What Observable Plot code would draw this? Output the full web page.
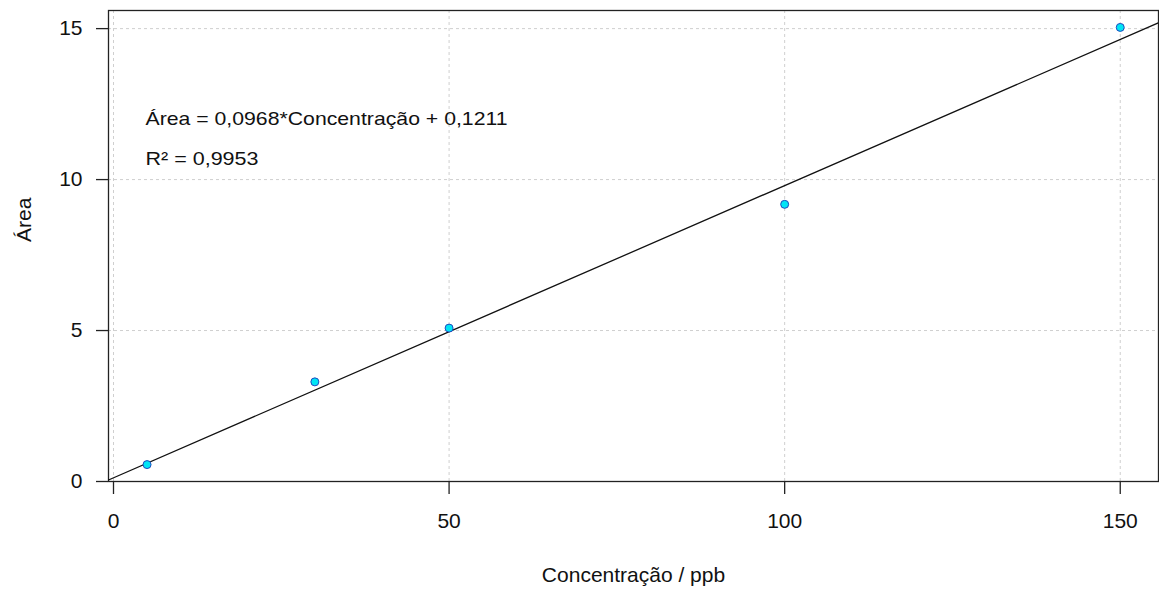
<!DOCTYPE html>
<html>
<head>
<meta charset="utf-8">
<script src="https://cdn.jsdelivr.net/npm/d3@7"></script>
<script src="https://cdn.jsdelivr.net/npm/@observablehq/plot@0.6"></script>
<style>
  html, body { margin: 0; padding: 0; background: white; }
  #chart { width: 1159px; height: 592px; }
</style>
</head>
<body>
<div id="chart"></div>
<script>
// Data
const concentracao = [5, 30, 50, 100, 150];
const area = [0.56, 3.30, 5.08, 9.18, 15.04];
const xTicks = [0, 50, 100, 150];
const yTicks = [0, 5, 10, 15];
const slope = 0.0968;
const intercept = 0.1211;
const eqLabel = "Área = 0,0968*Concentração + 0,1211";
const r2Label = "R² = 0,9953";
const xTitle = "Concentração / ppb";
const yTitle = "Área";
const xDomain = [-0.745, 155.7];
const yDomain = [0, 15.6];

const points = concentracao.map((c, i) => ({x: c, y: area[i]}));
const fitLine = xDomain.map(x => ({x, y: slope * x + intercept}));

const font = "Liberation Sans, Arial, sans-serif";

const chart = Plot.plot({
  width: 1159,
  height: 592,
  marginLeft: 108,
  marginRight: 1,
  marginTop: 10,
  marginBottom: 111,
  style: {fontFamily: font, fontSize: "21px", background: "white", color: "#111"},
  x: {domain: xDomain, label: null},
  y: {domain: yDomain, label: null},
  marks: [
    Plot.gridX(xTicks, {stroke: "#cfcfcf", strokeOpacity: 1, strokeDasharray: "3,3"}),
    Plot.gridY(yTicks, {stroke: "#cfcfcf", strokeOpacity: 1, strokeDasharray: "3,3"}),
    Plot.frame({stroke: "#222", strokeWidth: 1.3}),
    Plot.axisX(xTicks, {tickSize: 13, tickPadding: 19, fontSize: 21, stroke: "#222", strokeWidth: 1.3, fill: "#111", label: null}),
    Plot.axisY(yTicks, {tickSize: 12, tickPadding: 14, fontSize: 21, stroke: "#222", strokeWidth: 1.3, fill: "#111", label: null}),
    Plot.line(fitLine, {x: "x", y: "y", stroke: "#111", strokeWidth: 1.3, clip: true}),
    Plot.dot(points, {x: "x", y: "y", r: 4, fill: "#00e5f5", stroke: "#2048c0", strokeWidth: 1}),
    Plot.text([eqLabel], {frameAnchor: "top-left", dx: 37, dy: 114, lineAnchor: "bottom", textAnchor: "start", fontSize: 19, fill: "#111"}),
    Plot.text([r2Label], {frameAnchor: "top-left", dx: 37, dy: 154, lineAnchor: "bottom", textAnchor: "start", fontSize: 19, fill: "#111"}),
    Plot.text([xTitle], {frameAnchor: "bottom", dy: 100, lineAnchor: "bottom", fontSize: 21, fill: "#111"}),
    Plot.text([yTitle], {frameAnchor: "left", dx: -78, dy: -4, rotate: -90, lineAnchor: "bottom", fontSize: 21, fill: "#111"})
  ]
});

document.getElementById("chart").appendChild(chart);

// stretch annotation texts to match reference widths
chart.querySelectorAll("text").forEach(t => {
  const s = t.textContent;
  let target = null;
  if (s === eqLabel) target = 362;
  else if (s === r2Label) target = 113;
  if (target) {
    t.setAttribute("textLength", target);
    t.setAttribute("lengthAdjust", "spacingAndGlyphs");
  }
});
</script>
</body>
</html>
